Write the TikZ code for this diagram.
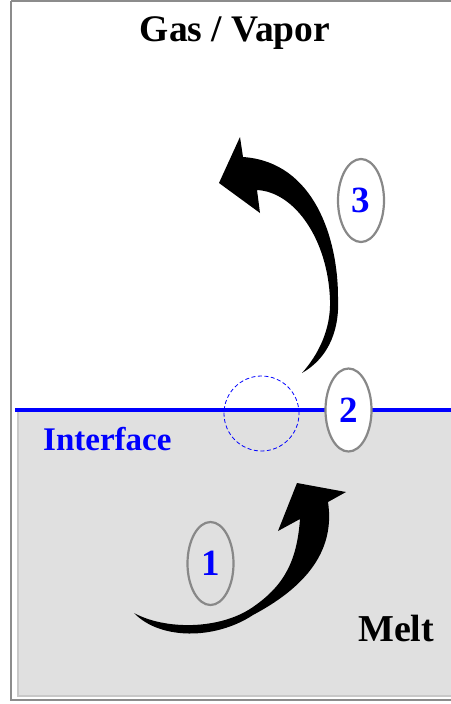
\documentclass[tikz,border=0pt]{standalone}
\usepackage{fontspec}
\setmainfont{Liberation Serif}
\usetikzlibrary{shapes.geometric}
\definecolor{meltphase}{RGB}{224,224,224}
\definecolor{framegray}{RGB}{140,140,140}
\definecolor{boxgray}{RGB}{200,200,200}
\definecolor{ringgray}{RGB}{136,136,136}

\begin{document}
\begin{tikzpicture}[x=1pt,y=-1pt,
                    every node/.style={font=\bfseries},
                    stepmark/.style={ellipse,draw=ringgray,line width=2.2pt,inner sep=0pt,
                      minimum width=46pt,minimum height=83pt,text=blue,
                      font=\fontsize{37}{40}\selectfont\bfseries},
                    swoosh/.style={fill=black}]
  \useasboundingbox (0,0) rectangle (450,704);

  % --- frame and melt region ---------------------------------------------
  \fill[white] (0,0) rectangle (450,704);
  \draw[framegray,line width=2.5pt] (11,1) -- (470,1) (11,1) -- (11,700) -- (470,700);
  \fill[meltphase] (18,410) rectangle (470,696);
  \draw[boxgray,line width=2pt] (18,410) -- (18,696) -- (470,696);
  \draw[blue,line width=3.2pt] (15,410) -- (452,410);

  % --- labels --------------------------------------------------------------
  \node[anchor=base,font=\fontsize{37.5}{40}\selectfont\bfseries] (gas) at (235,41.7) {Gas / Vapor};
  \node[anchor=base west,inner sep=0pt,text=blue,font=\fontsize{33}{36}\selectfont\bfseries]
    (iface) at (43,450.7) {Interface};
  \node[anchor=base west,inner sep=0pt,font=\fontsize{38}{40}\selectfont\bfseries]
    (melt) at (358,641.7) {Melt};

  % --- interface zone ------------------------------------------------------
  \draw[blue,line width=0.8pt,dash pattern=on 4pt off 2.5pt] (261.5,413.5) circle (37.5pt);

  % --- (1) transport through the melt ---------------------------------------
  \fill[swoosh] (134,613) .. controls (160,640) and (215,640) .. (253,615)
      .. controls (300,590) and (336,555) .. (328,502)
      -- (346,492) -- (297,483) -- (278,531) -- (300,519)
      .. controls (297,560) and (285,585) .. (253,607)
      .. controls (220,630) and (165,630) .. (134,613) -- cycle;

  % --- (3) transport into the gas -------------------------------------------
  \fill[swoosh] (302,373) .. controls (325,360) and (340,335) .. (338,297)
      .. controls (338,240) and (315,162) .. (243,157)
      -- (240,137) -- (219,183) -- (260,213) -- (257,190)
      .. controls (295,192) and (328,240) .. (330,300)
      .. controls (331,330) and (318,355) .. (302,373) -- cycle;

  % --- step marks ------------------------------------------------------------
  \node[stepmark] (one) at (210.5,563.5) {1};
  \node[stepmark,fill=white] (two) at (348.5,410) {2};
  \node[stepmark] (three) at (361,200.5) {3};
\end{tikzpicture}
\end{document}
